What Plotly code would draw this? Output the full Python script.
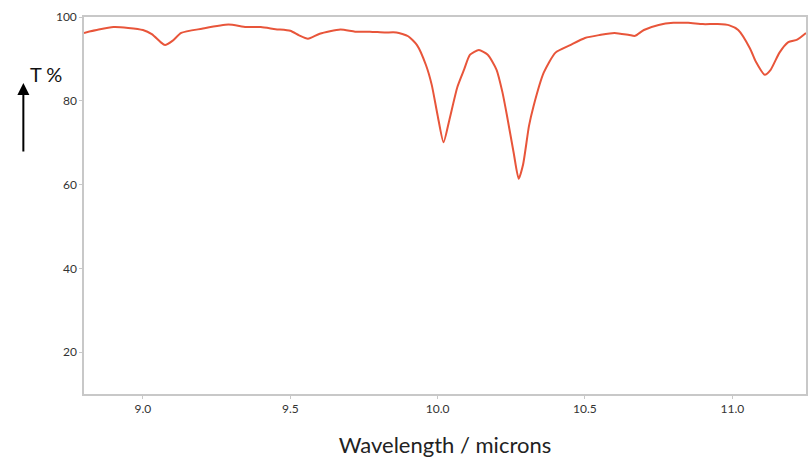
import plotly.graph_objects as go

wavelength = [8.80, 8.85, 8.90, 8.95, 9.00, 9.03, 9.06, 9.075, 9.10, 9.13, 9.20, 9.29, 9.35, 9.40,
              9.45, 9.50, 9.53, 9.56, 9.60, 9.67, 9.72, 9.77, 9.82, 9.86, 9.90, 9.93, 9.96, 9.98,
              10.00, 10.02, 10.04, 10.067, 10.09, 10.11, 10.14, 10.17, 10.20, 10.22, 10.236, 10.258,
              10.275, 10.29, 10.31, 10.325, 10.36, 10.40, 10.45, 10.50, 10.55, 10.60, 10.65, 10.67,
              10.70, 10.75, 10.80, 10.85, 10.90, 10.95, 10.99, 11.02, 11.06, 11.08, 11.11, 11.13,
              11.16, 11.19, 11.22, 11.25]
transmittance = [96.2, 97.0, 97.6, 97.4, 96.9, 95.9, 94.0, 93.3, 94.3, 96.2, 97.2, 98.2, 97.6, 97.6,
                 97.1, 96.7, 95.6, 94.8, 96.0, 97.0, 96.5, 96.5, 96.3, 96.3, 95.4, 93.3, 88.6, 83.8,
                 76.5, 70.1, 75.5, 83.3, 87.5, 91.0, 92.1, 91.0, 87.4, 82.0, 76.2, 67.6,
                 61.4, 64.8, 74.0, 78.6, 86.7, 91.5, 93.3, 95.0, 95.7, 96.2, 95.7, 95.5,
                 96.9, 98.1, 98.6, 98.6, 98.3, 98.3, 98.0, 96.9, 92.5, 89.3, 86.2, 87.4,
                 91.5, 94.0, 94.6, 96.2]

x_ticks = [9.0, 9.5, 10.0, 10.5, 11.0]
y_ticks = [20, 40, 60, 80, 100]

fig = go.Figure()
fig.add_trace(go.Scatter(x=wavelength, y=transmittance, mode="lines",
                         line=dict(color="#e8553a", width=2, shape="spline", smoothing=0.6),
                         showlegend=False))

axis_common = dict(showgrid=False, zeroline=False, showline=True, linecolor="#c8c8c8",
                   linewidth=1.5, mirror=True, ticks="outside", ticklen=3, tickcolor="#c8c8c8",
                   tickfont=dict(family="Lato, Open Sans, sans-serif", size=12, color="#333333"))

fig.update_xaxes(range=[8.80, 11.25], tickvals=x_ticks, ticktext=[f"{v:.1f}" for v in x_ticks],
                 title=dict(text="Wavelength / microns",
                            font=dict(family="Lato, Open Sans, sans-serif", size=22, color="#222222"),
                            standoff=24),
                 **axis_common)
fig.update_yaxes(range=[10, 100], tickvals=y_ticks, **axis_common)

fig.add_annotation(xref="paper", yref="paper", x=-0.078, y=0.886, text="T %", showarrow=False,
                   font=dict(family="Lato, Open Sans, sans-serif", size=20, color="#111111"))
fig.add_annotation(xref="paper", yref="paper", x=-0.084, y=0.825, ax=0, ay=70, text="",
                   showarrow=True, arrowhead=2, arrowsize=1.2, arrowwidth=2, arrowcolor="#000000")

fig.update_layout(width=810, height=458, margin=dict(l=84, r=2, t=17, b=64),
                  plot_bgcolor="white", paper_bgcolor="white")

fig.write_html("out.html", config={"displayModeBar": False},
               post_script="document.body.style.margin='0';")
